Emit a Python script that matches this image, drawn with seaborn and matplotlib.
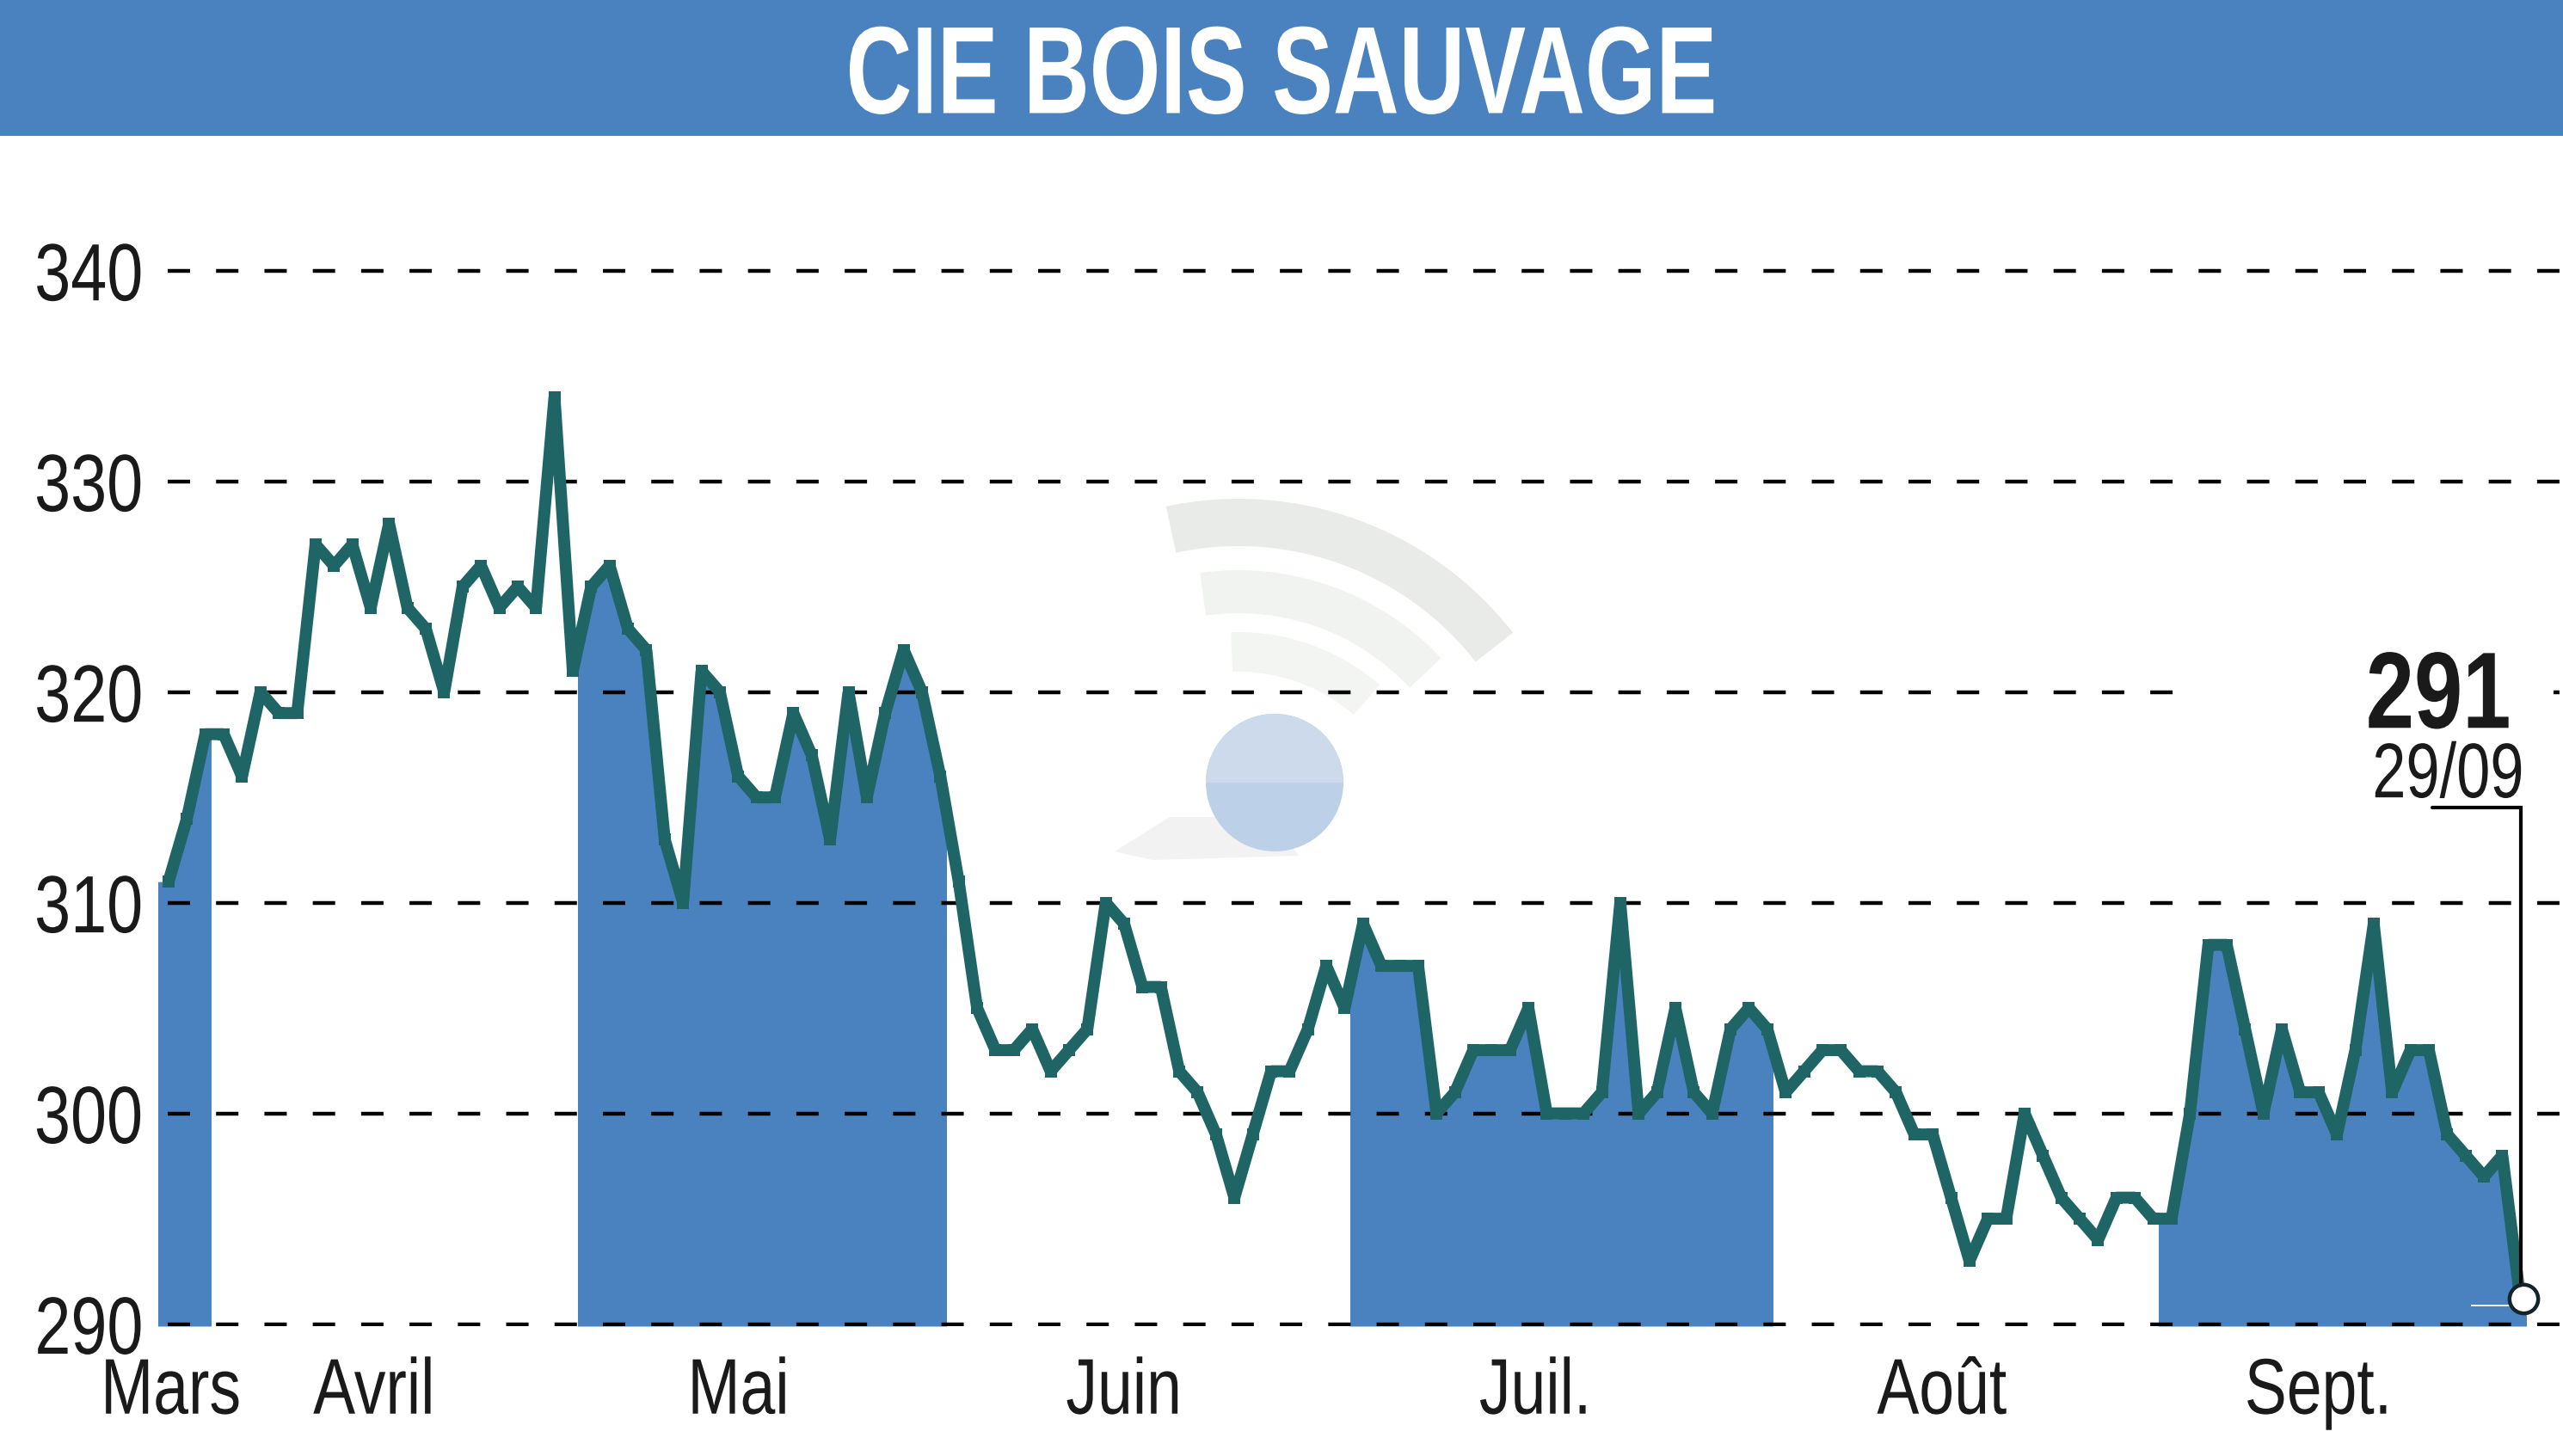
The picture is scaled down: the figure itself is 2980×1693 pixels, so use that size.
import matplotlib
matplotlib.use('Agg')
import matplotlib.pyplot as plt
from matplotlib.patches import Circle, Polygon, Rectangle, Wedge
from matplotlib.patheffects import AbstractPathEffect
from matplotlib.transforms import Affine2D
import numpy as np
import pandas as pd
import seaborn as sns

title = 'CIE BOIS SAUVAGE'
cours = [311, 314, 318, 318, 316, 320, 319, 319, 327, 326, 327, 324, 328, 324, 323, 320,
         325, 326, 324, 325, 324, 334, 321, 325, 326, 323, 322, 313, 310, 321, 320, 316,
         315, 315, 319, 317, 313, 320, 315, 319, 322, 320, 316, 311, 305, 303, 303, 304,
         302, 303, 304, 310, 309, 306, 306, 302, 301, 299, 296, 299, 302, 302, 304, 307,
         305, 309, 307, 307, 307, 300, 301, 303, 303, 303, 305, 300, 300, 300, 301, 310,
         300, 301, 305, 301, 300, 304, 305, 304, 301, 302, 303, 303, 302, 302, 301, 299,
         299, 296, 293, 295, 295, 300, 298, 296, 295, 294, 296, 296, 295, 295, 300, 308,
         308, 304, 300, 304, 301, 301, 299, 303, 309, 301, 303, 303, 299, 298, 297, 298, 291]
yticks = [290, 300, 310, 320, 330, 340]
mois = ['Mars', 'Avril', 'Mai', 'Juin', 'Juil.', 'Août', 'Sept.']
mois_pos = [0.1, 11.2, 31, 52, 74.4, 96.5, 117]
# edges of the shaded months, in point index
bandes = [(-0.56, 2.3), (22.3, 42.3), (64.3, 87.3), (108.3, 128.3)]
dernier_cours = '291'
derniere_date = '29/09'

BLEU = '#4a82bf'
VERT = '#1f6566'
W, H = 2980, 1693
Y_BAS = 289.9


class Condense(AbstractPathEffect):
    """Squeeze glyphs horizontally, no condensed font is installed."""

    def __init__(self, sx, anchor='center'):
        super().__init__()
        self.sx = sx
        self.anchor = anchor

    def draw_path(self, renderer, gc, tpath, affine, rgbFace=None):
        box = tpath.get_extents(affine)
        x0 = {'left': box.x0, 'center': (box.x0 + box.x1) / 2, 'right': box.x1}[self.anchor]
        squeeze = Affine2D().translate(-x0, 0).scale(self.sx, 1).translate(x0, 0)
        renderer.draw_path(gc, tpath, affine + squeeze, rgbFace)


sns.set_theme(style='white')
plt.rcParams['font.family'] = ['Liberation Sans']

fig = plt.figure(figsize=(W / 100, H / 100), dpi=100, facecolor='white')

# background layer in pixels: title band and watermark
bg = fig.add_axes([0, 0, 1, 1], zorder=0)
bg.set_xlim(0, W)
bg.set_ylim(H, 0)
bg.axis('off')
bg.add_patch(Rectangle((0, 0), W, 158, color=BLEU, lw=0))
for r, a1, a2, c, w in [(405, 38, 102, '#e9ebe9', 55), (322, 43, 98, '#f0f3f0', 50), (250, 49, 92, '#f3f5f3', 46)]:
    bg.add_patch(Wedge((1440, 985), r, -a2, -a1, width=w, color=c, lw=0))
bg.add_patch(Polygon([(1296, 990), (1360, 950), (1480, 950), (1510, 995), (1340, 1000)], color='#f2f2f2', lw=0))
bg.add_patch(Circle((1482, 910), 80, color='#bcd1e8', lw=0))
bg.add_patch(Wedge((1482, 910), 80, 180, 360, color='#ccdaec', lw=0))
t = bg.text(1490, 79, title, color='white', fontsize=104, fontweight='bold', ha='center', va='center_baseline')
t.set_path_effects([Condense(0.735)])

# main axes, pixel edges converted to figure fractions
ax = fig.add_axes([184 / W, (H - 1542) / H, (W - 184) / W, (1542 - 158) / H], zorder=1)
ax.patch.set_alpha(0)

df = pd.DataFrame({'idx': np.arange(len(cours)), 'cours': cours})
n = len(cours) - 1

# area under the line, one clipped copy per shaded month
xs = np.r_[-1, df['idx'], n + 1]
ys = np.r_[cours[0], cours, cours[n]]
for left, right in bandes:
    area = ax.fill_between(xs, Y_BAS, ys, color=BLEU, lw=0, zorder=1)
    area.set_clip_path(Rectangle((left, Y_BAS), right - left, 60, transform=ax.transData))

x_end = 130.3
ax.hlines(yticks, -0.05, x_end, color='black', lw=3.2, linestyles=[(0, (5.85, 6.8))], zorder=2)
# the 320 line is interrupted behind the last value
ax.add_patch(Rectangle((109.1, 319), 20.7, 6, color='white', lw=0, zorder=2.5))

sns.lineplot(data=df, x='idx', y='cours', color=VERT, linewidth=10, marker='s', markersize=10.5,
             markeredgewidth=0, solid_joinstyle='bevel', errorbar=None, ax=ax, zorder=3)

ax.plot([n - 4.8, n, n], [314.5, 314.5, cours[n]], color='black', lw=3, solid_joinstyle='miter', zorder=4)
ax.hlines(cours[n] - 0.1, n - 2.7, n - 0.5, color='white', lw=1.3, zorder=4)
ax.plot([n + 0.15], [cours[n] + 0.2], marker='o', ms=24, mfc='white', mec='#14242a', mew=3.2, zorder=5, clip_on=False)

t = ax.text(n - 0.5, 318.3, dernier_cours, fontsize=91, fontweight='bold', color='#1a1a1a',
            ha='right', va='baseline', zorder=5)
t.set_path_effects([Condense(0.8, 'right')])
t = ax.text(n + 0.2, 315.0, derniere_date, fontsize=65, color='#1a1a1a', ha='right', va='baseline', zorder=5)
t.set_path_effects([Condense(0.78, 'right')])

ax.set_xlim(-0.56, x_end)
ax.set_ylim(Y_BAS, 346.4)
ax.set_yticks(yticks)
ax.set_yticklabels(yticks, fontsize=68, color='#1a1a1a')
ax.set_xticks(mois_pos)
ax.set_xticklabels(mois, fontsize=66, color='#1a1a1a')
ax.tick_params(axis='y', length=0, pad=12)
ax.tick_params(axis='x', length=0, pad=25)
for lab in ax.get_yticklabels():
    lab.set_path_effects([Condense(0.8, 'right')])
for lab in ax.get_xticklabels():
    lab.set_path_effects([Condense(0.8)])
ax.set_xlabel('')
ax.set_ylabel('')
sns.despine(ax=ax, left=True, bottom=True)
ax.grid(False)

fig.savefig('out.png', dpi=100)
